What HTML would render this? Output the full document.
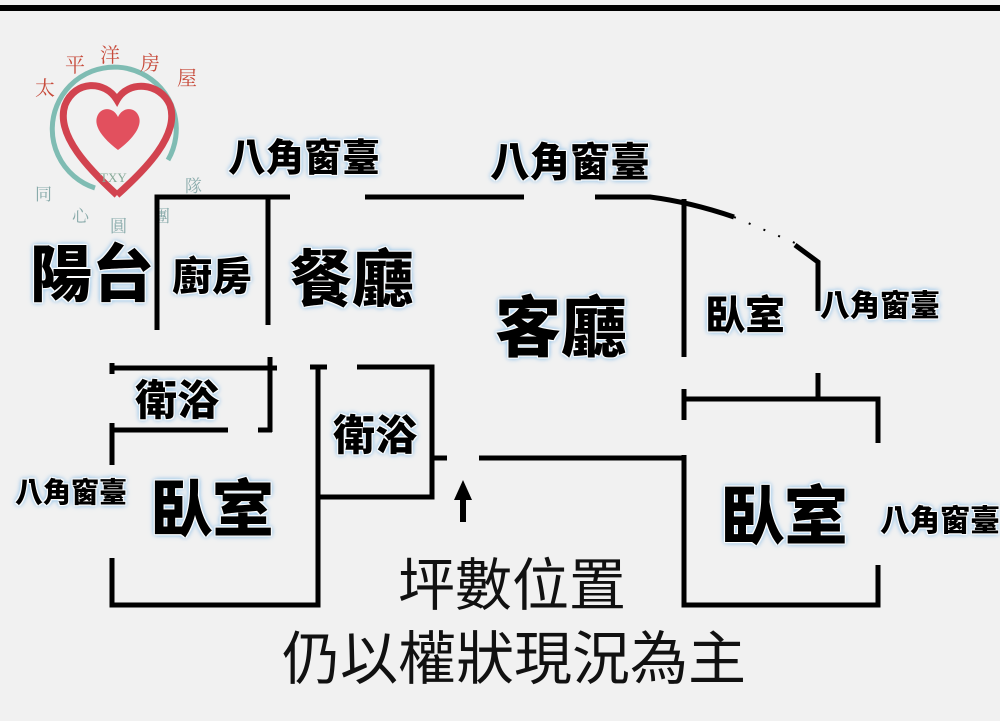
<!DOCTYPE html>
<html><head><meta charset="utf-8"><style>
body{margin:0;background:#f1f1f1;}
#c{position:relative;width:1000px;height:721px;overflow:hidden;background:#f1f1f1;font-family:"Liberation Sans","Noto Sans CJK TC",sans-serif;}
.t{position:absolute;font-weight:900;color:#000;white-space:nowrap;line-height:1;
text-shadow:0 0 1px #fff,1px 1px 1px #fff,-1px -1px 1px #fff,1px -1px 1px #fff,-1px 1px 1px #fff,0 0 4px #8fbfe4,0 0 5px #8fbfe4,0 0 7px #a8cff0;}
.n{position:absolute;color:#111;white-space:nowrap;line-height:1;font-weight:400;}
svg{position:absolute;left:0;top:0;}
</style></head><body><div id="c">
<svg width="1000" height="721">
<rect x="0" y="5" width="1000" height="6" fill="#000"/>
<!-- logo -->
<g>
<path d="M95 188 A62 62 0 1 1 168 160" fill="none" stroke="#7fbcb3" stroke-width="5"/>
<path d="M117 195 C90 170 55 135 65 105 C75 80 105 80 117 100 C128 80 160 82 170 105 C180 135 145 170 117 195" fill="none" stroke="#d2434f" stroke-width="7"/>
<path d="M118 150 C102 138 94 126 97 117 C100 107 113 106 118 117 C123 106 136 107 139 117 C142 126 134 138 118 150Z" fill="#e2505e"/>
<text x="100" y="182" font-family="Liberation Serif" font-size="13" fill="#8a9">TXY</text>
<g font-family="Noto Serif CJK SC" font-size="20" fill="#c74a3a">
<text x="35" y="95">太</text><text x="65" y="72">平</text><text x="100" y="62">洋</text><text x="140" y="70">房</text><text x="177" y="85">屋</text></g>
<g font-family="Noto Serif CJK SC" font-size="17" fill="#8aa">
<text x="35" y="200">同</text><text x="72" y="222">心</text><text x="110" y="232">圓</text><text x="153" y="222">團</text><text x="185" y="192">隊</text></g>
</g>
<g stroke="#000" stroke-width="5" fill="none" stroke-linecap="butt">
<path d="M157 330 V197 H290"/>
<path d="M268 197 V325"/>
<path d="M365 197 H524"/>
<path d="M595 197 H650 Q690 202 734 217"/>
<path d="M734 217 L795 243" stroke-width="2" stroke-dasharray="2 14"/>
<path d="M795 245 L818 262 V311"/>
<path d="M684 199 V357 M684 389 V420 M684 455 V605 H878 V565"/>
<path d="M684 399 H878 V443 M818 373 V399"/>
<path d="M479 458 H684"/>
<path d="M112 368 H277 M270 357 V432 M112 430 H228 M258 430 H272"/>
<path d="M112 363 V374 M112 423 V465 M112 558 V605 H318 V367 M310 367 H327"/>
<path d="M357 367 H432 V497 H318 M432 458 H447"/>
<path d="M463 522 V496" stroke-width="6"/>
</g>
<path d="M454 500 L463 480 L472 500Z" fill="#000"/>
</svg>
<div class="t" style="left:228px;top:140px;font-size:38px;">八角窗臺</div>
<div class="t" style="left:490px;top:143px;font-size:40px;">八角窗臺</div>
<div class="t" style="left:30px;top:245px;font-size:62px;">陽台</div>
<div class="t" style="left:172px;top:257px;font-size:40px;">廚房</div>
<div class="t" style="left:290px;top:250px;font-size:62px;">餐廳</div>
<div class="t" style="left:495px;top:295px;font-size:66px;">客廳</div>
<div class="t" style="left:705px;top:296px;font-size:40px;">臥室</div>
<div class="t" style="left:820px;top:292px;font-size:30px;">八角窗臺</div>
<div class="t" style="left:135px;top:380px;font-size:42px;">衛浴</div>
<div class="t" style="left:333px;top:415px;font-size:42px;">衛浴</div>
<div class="t" style="left:15px;top:479px;font-size:28px;">八角窗臺</div>
<div class="t" style="left:150px;top:480px;font-size:62px;">臥室</div>
<div class="t" style="left:720px;top:485px;font-size:64px;">臥室</div>
<div class="t" style="left:880px;top:507px;font-size:30px;">八角窗臺</div>
<div class="n" style="left:398px;top:558px;font-size:57px;">坪數位置</div>
<div class="n" style="left:282px;top:631px;font-size:58px;">仍以權狀現況為主</div>
</div></body></html>
